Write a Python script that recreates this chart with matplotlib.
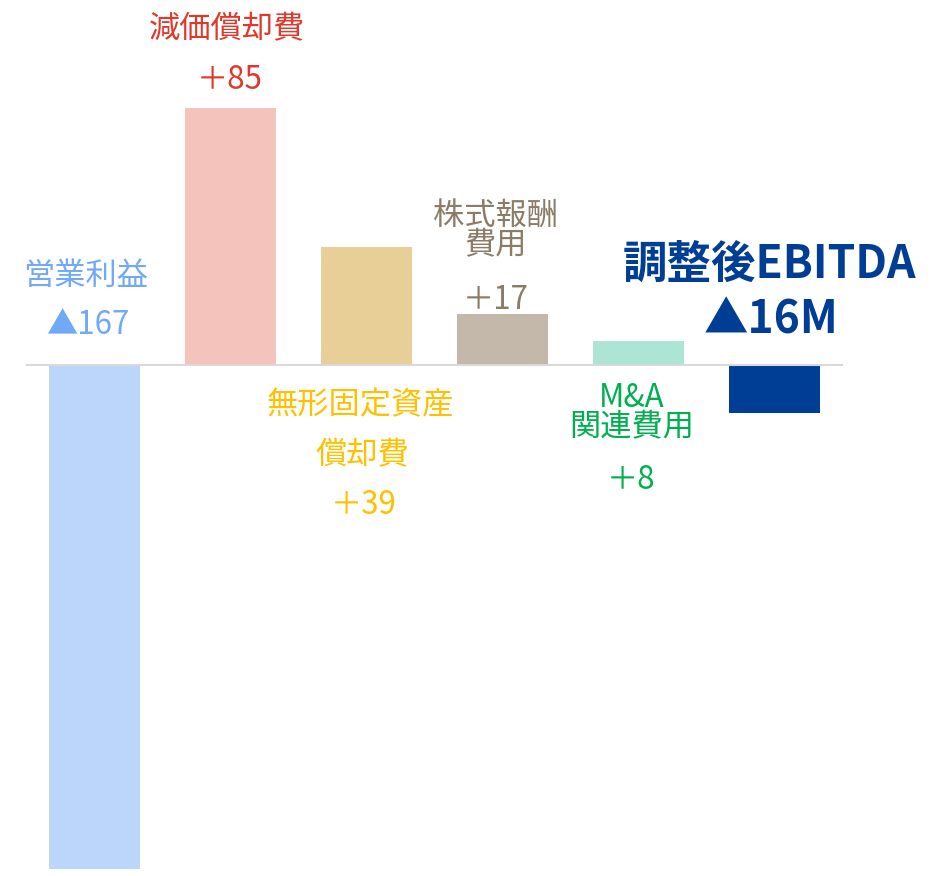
import matplotlib
matplotlib.use("Agg")
import matplotlib.pyplot as plt

plt.rcParams['font.family'] = ['Noto Sans CJK JP', 'DejaVu Sans']

categories = ["営業利益", "減価償却費", "無形固定資産償却費", "株式報酬費用", "M&A関連費用", "調整後EBITDA"]
values = [-167, 85, 39, 17, 8, -16]
value_labels = ["▲167", "＋85", "＋39", "＋17", "＋8", "▲16M"]

bar_colors = ["#BCD6FB", "#F4C4BC", "#E8CE97", "#C3B8A9", "#ACE5D3", "#003E96"]
text_colors = ["#70A9F6", "#E0392B", "#FFC000", "#8C7B67", "#00B050", "#003E96"]

W, H = 941, 876
fig = plt.figure(figsize=(W / 100, H / 100), dpi=100)
ax = fig.add_axes([0, 0, 1, 1])

px_per_unit = 3.02
x0_px, spacing_px, base_px = 94.5, 136.0, 365.0
ax.set_xlim((0 - x0_px) / spacing_px, (W - x0_px) / spacing_px)
ax.set_ylim(-(H - base_px) / px_per_unit, base_px / px_per_unit)
ax.axis("off")

xs = list(range(len(values)))
ax.bar(xs, values, width=0.67, color=bar_colors, zorder=2)
ax.plot([-0.5, 5.5], [0, 0], color="#D9D9D9", lw=1.5, zorder=3)

def lab(i, ref, text, dx, dy, size=22.5, weight="normal", ls=1.0):
    ax.annotate(text, xy=(i, ref), xytext=(dx, dy - 3), textcoords="offset pixels",
                ha="center", va="center", color=text_colors[i], fontsize=size,
                fontweight=weight, linespacing=ls)

# 営業利益
lab(0, 0, "営業利益", -9, 92)
lab(0, 0, value_labels[0], -7, 43)
# 減価償却費
lab(1, values[1], "減価償却費", -4, 82)
lab(1, values[1], value_labels[1], -1, 31)
# 無形固定資産償却費
lab(2, 0, "無形固定資産", -6, -37)
lab(2, 0, "償却費", -4, -87)
lab(2, 0, value_labels[2], -3, -137)
# 株式報酬費用
lab(3, values[3], "株式報酬\n費用", -7, 86, ls=0.88)
lab(3, values[3], value_labels[3], -7, 17)
# M&A関連費用
lab(4, 0, "M&A\n関連費用", -7, -45, ls=0.9)
lab(4, 0, value_labels[4], -7, -112)
# 調整後EBITDA
lab(5, 0, "調整後EBITDA", -5, 103, size=32, weight="bold")
lab(5, 0, value_labels[5], -3, 47, size=32, weight="bold")

fig.savefig("out.png", dpi=100, facecolor="white")
